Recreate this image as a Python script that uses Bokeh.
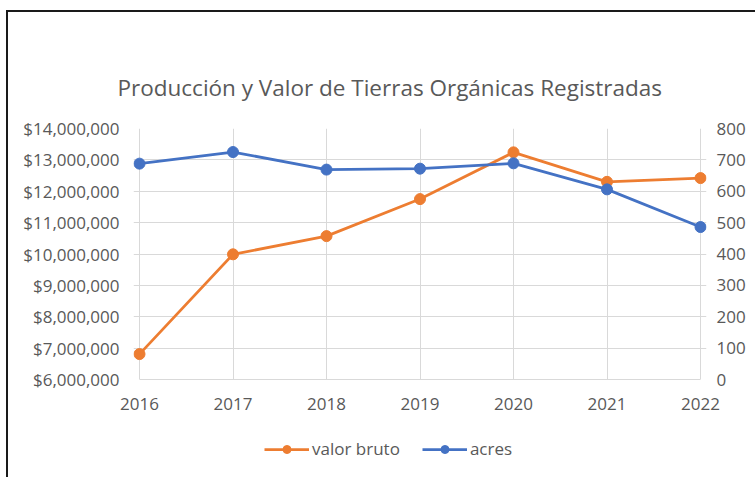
from bokeh.plotting import figure
from bokeh.layouts import column
from bokeh.models import (Range1d, LinearAxis, FixedTicker, NumeralTickFormatter,
                          Legend, LegendItem)
from bokeh.embed import file_html
from bokeh.resources import INLINE

years = [2016, 2017, 2018, 2019, 2020, 2021, 2022]
valor_bruto = [6810000, 9990000, 10570000, 11750000, 13240000, 12300000, 12420000]
acres = [688, 725, 669, 672, 689, 606, 486]
left_ticks = [6000000, 7000000, 8000000, 9000000, 10000000, 11000000, 12000000, 13000000, 14000000]
right_ticks = [0, 100, 200, 300, 400, 500, 600, 700, 800]
series_names = ["valor bruto", "acres"]

ORANGE = "#ED7D31"
BLUE = "#4472C4"
GRID = "#D9D9D9"
TXT = "#595959"
FONT = "Open Sans"

# small horizontal padding so end markers are not clipped by the frame
PAD = 6 * 6 / 561

p = figure(width=747, height=417, output_backend="svg", toolbar_location=None,
           x_range=Range1d(years[0] - PAD, years[-1] + PAD),
           y_range=Range1d(6000000, 14000000),
           min_border_left=125, min_border_right=49, min_border_top=116, min_border_bottom=50)
p.outline_line_color = None
p.background_fill_color = "white"
p.border_fill_color = "white"

p.extra_y_ranges = {"acres": Range1d(0, 800)}

# title
p.title.text = "Producción y Valor de Tierras Orgánicas Registradas"
p.title.text_font = FONT
p.title.text_font_size = "22.5px"
p.title.text_font_style = "normal"
p.title.text_color = TXT
p.title.align = "left"
p.title.offset = -16
p.title.standoff = 51

# axes
xa = p.xaxis[0]
xa.ticker = FixedTicker(ticks=years)
xa.bounds = (years[0], years[-1])
xa.axis_line_color = GRID
xa.major_tick_line_color = None
xa.minor_tick_line_color = None
xa.major_label_text_font = FONT
xa.major_label_text_font_size = "17px"
xa.major_label_text_color = TXT
xa.major_label_standoff = 12

ya = p.yaxis[0]
ya.ticker = FixedTicker(ticks=left_ticks)
ya.formatter = NumeralTickFormatter(format="$0,0")
ya.axis_line_color = None
ya.major_tick_line_color = None
ya.minor_tick_line_color = None
ya.major_label_text_font = FONT
ya.major_label_text_font_size = "17px"
ya.major_label_text_color = TXT
ya.major_label_standoff = 8

ra = LinearAxis(y_range_name="acres", ticker=FixedTicker(ticks=right_ticks))
ra.axis_line_color = None
ra.major_tick_line_color = None
ra.major_tick_out = 0
ra.major_tick_in = 0
ra.minor_tick_line_color = None
ra.major_label_text_font = FONT
ra.major_label_text_font_size = "17px"
ra.major_label_text_color = TXT
ra.major_label_standoff = 10
p.add_layout(ra, "right")

p.xgrid.ticker = FixedTicker(ticks=years)
p.ygrid.ticker = FixedTicker(ticks=left_ticks)
p.xgrid.grid_line_color = GRID
p.ygrid.grid_line_color = GRID

p.line(years, valor_bruto, line_color=ORANGE, line_width=2.75)
p.scatter(years, valor_bruto, size=11, fill_color=ORANGE, line_color=ORANGE)
p.line(years, acres, line_color=BLUE, line_width=2.75, y_range_name="acres")
p.scatter(years, acres, size=11, fill_color=BLUE, line_color=BLUE, y_range_name="acres")

# legend strip below the chart; its key renderers sit outside this strip's view,
# so only the legend itself shows
q = figure(width=747, height=48, output_backend="svg", toolbar_location=None,
           x_range=Range1d(0, 1), y_range=Range1d(0, 1),
           x_axis_type=None, y_axis_type=None, min_border=0)
q.outline_line_color = None
q.background_fill_color = "white"
q.border_fill_color = "white"
k1 = q.line(x=years, y=valor_bruto, line_color=ORANGE, line_width=2.75)
m1 = q.scatter(x=years, y=valor_bruto, size=11, fill_color=ORANGE, line_color=ORANGE)
k2 = q.line(x=years, y=acres, line_color=BLUE, line_width=2.75)
m2 = q.scatter(x=years, y=acres, size=11, fill_color=BLUE, line_color=BLUE)

legend = Legend(items=[LegendItem(label=series_names[0], renderers=[k1, m1]),
                       LegendItem(label=series_names[1], renderers=[k2, m2])],
                orientation="horizontal", location=(131, 17),
                border_line_color=None, background_fill_alpha=0,
                label_text_font=FONT, label_text_font_size="17px", label_text_color=TXT,
                glyph_width=45, label_standoff=3, spacing=22, padding=0, margin=0)
q.add_layout(legend, "center")

layout = column(p, q, spacing=0)
layout.styles = {"border-top": "2px solid #1a1a1a", "border-left": "2px solid #1a1a1a",
                 "margin-left": "6px", "margin-top": "10px"}

open("out.html", "w").write(file_html(layout, INLINE))
